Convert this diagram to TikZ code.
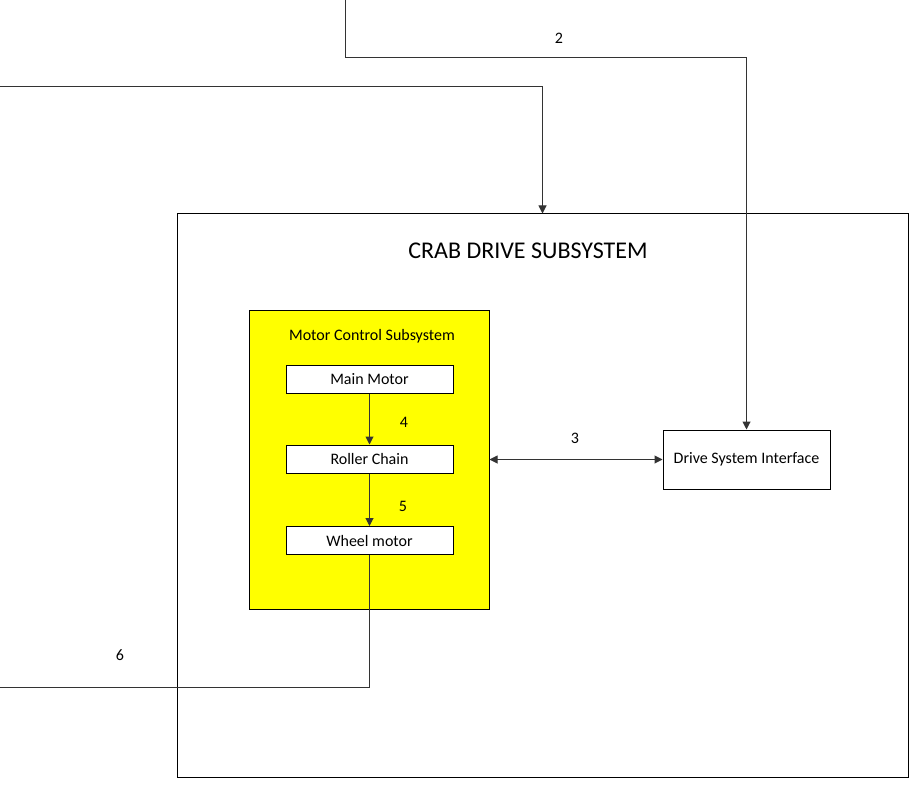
\documentclass[tikz,border=0pt]{standalone}
\usepackage{fontspec}
\setmainfont{Carlito}
\usetikzlibrary{arrows.meta}
\definecolor{mcsyellow}{RGB}{255,255,0}

\begin{document}
\begin{tikzpicture}[x=1pt,y=-1pt,line width=1pt,
    >={Triangle[length=8pt,width=8pt]},
    every node/.style={font=\fontsize{16}{18}\selectfont}]

      \useasboundingbox (0,0) rectangle (909,791);

      % outer boxes
      \node[draw, minimum width=731, minimum height=563] (crab) at (542.5,495.5) {};
      \node[draw, fill=mcsyellow, minimum width=240, minimum height=299] (mcs) at (369,459.5) {};

      \begin{scope}[every node/.style={draw, fill=white, minimum width=167, minimum height=28,
          inner sep=0, font=\fontsize{16}{18}\selectfont}]
        \node (main)   at (369.5,379) {Main Motor};
        \node (roller) at (369.5,459) {Roller Chain};
        \node (wheel)  at (369.5,540.5) {Wheel motor};
        \node[minimum height=59] (dsi) at (746.5,459.5) {Drive System Interface};
      \end{scope}

      \node[font=\fontsize{24}{28}\selectfont] (title) at (528,251) {CRAB DRIVE SUBSYSTEM};
      \node (mcstitle) at (372,336) {Motor Control Subsystem};

      \coordinate (in1)  at (0,87);
      \coordinate (in2)  at (345,0);
      \coordinate (c2)   at (345,58);
      \coordinate (out6) at (0,687);

      \begin{scope}[draw=black!80]
        \draw[->] (in1) -| (crab.north);
        \draw[->] (in2) -- (c2) -| (dsi.north);
        \draw[->] (main) -- (roller);
        \draw[->] (roller) -- (wheel);
        \draw[<->] (mcs.east) -- (dsi.west);
        \draw (wheel.south) |- (out6);
      \end{scope}

      % connector numbers
      \node (l2) at (559,38)  {2};
      \node (l3) at (575,438) {3};
      \node (l4) at (404,422) {4};
      \node (l5) at (403,506) {5};
      \node (l6) at (120,655) {6};

    \end{tikzpicture}
\end{document}
